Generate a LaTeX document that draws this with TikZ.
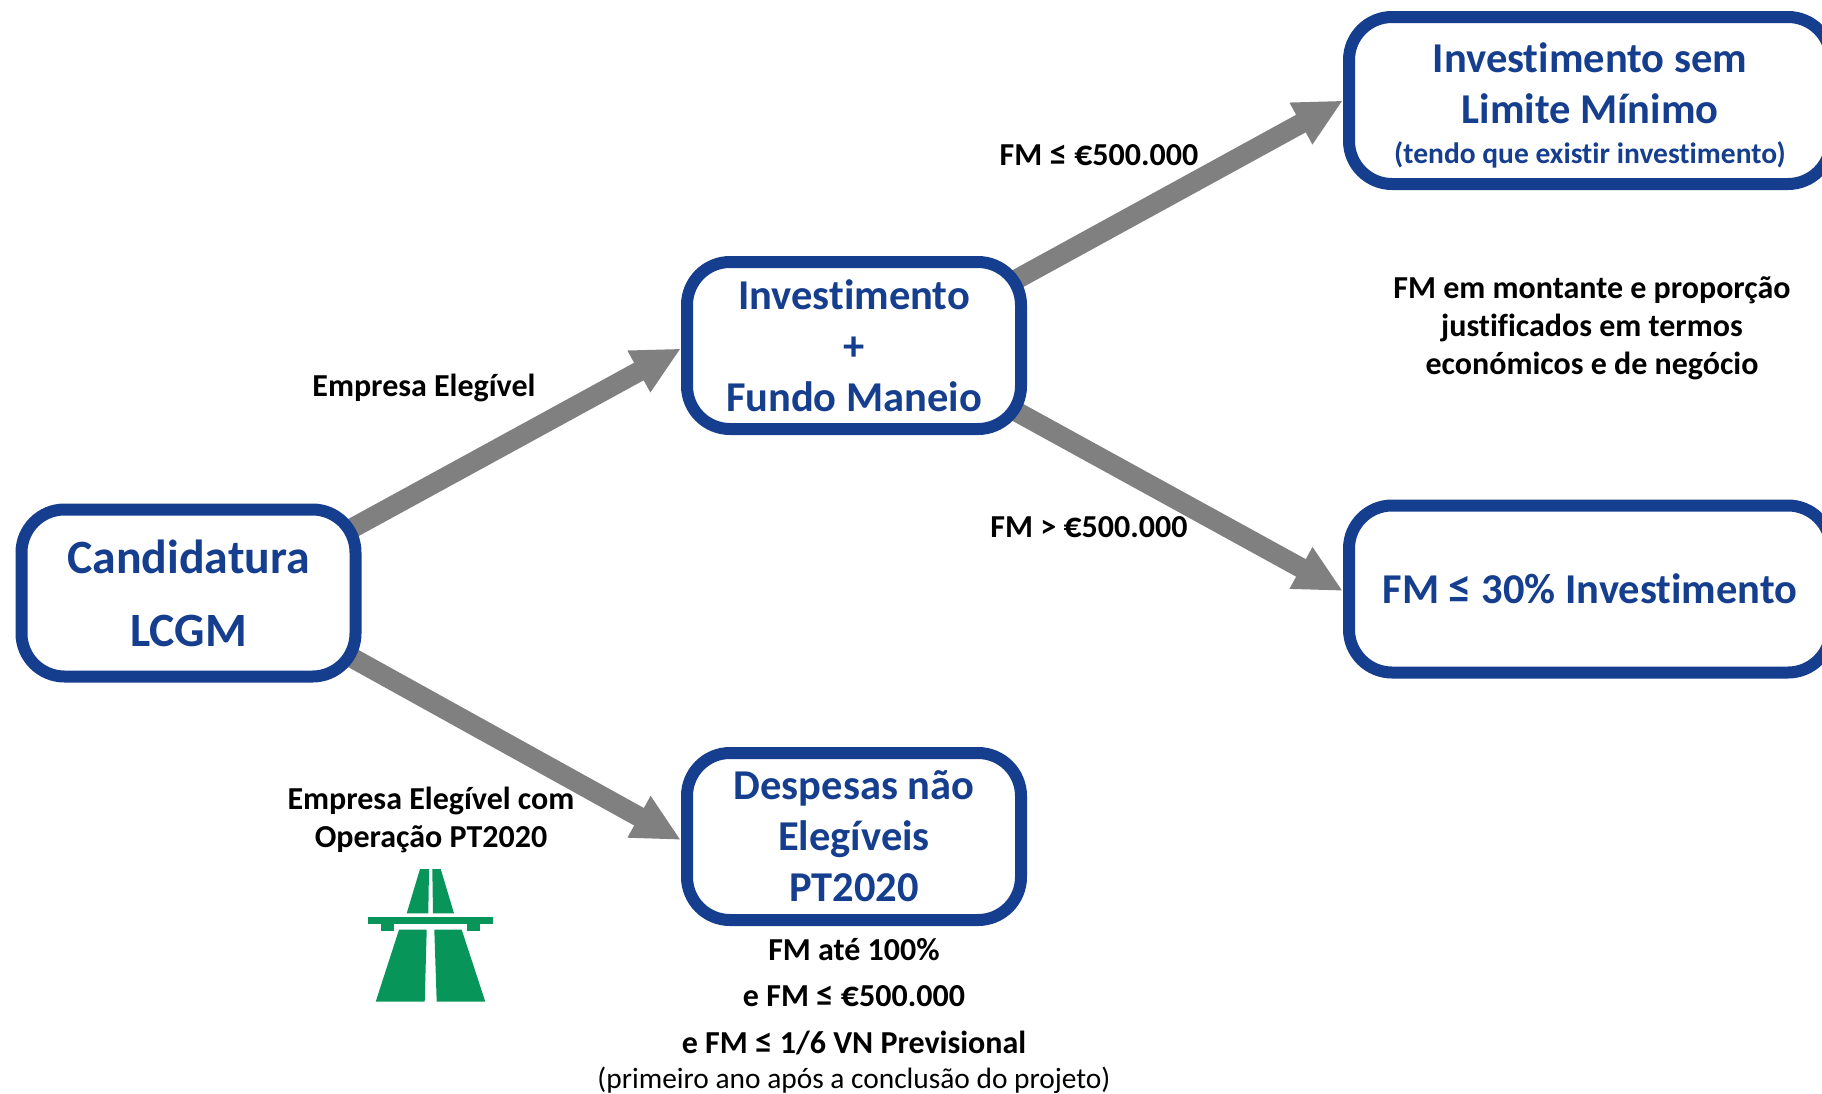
\documentclass[tikz,border=0pt]{standalone}
\usepackage{graphicx}
\usepackage{fontspec}
\setmainfont[Ligatures=NoCommon]{Carlito}
\usetikzlibrary{arrows.meta,backgrounds}
\definecolor{boxblue}{HTML}{153E8E}
\definecolor{arrowgray}{HTML}{808080}
\definecolor{roadgreen}{HTML}{079559}
\newcommand{\eur}{\scalebox{1.12}{€}}
\newcommand{\leqsign}{\scalebox{1.1}{≤}}
\tikzset{
  stagebox/.style={draw=boxblue,line width=12pt,rounded corners=43pt,fill=white,
    minimum width=334pt,minimum height=167pt,inner sep=0pt,align=center,
    text=boxblue,font=\bfseries\fontsize{42.5}{51}\selectfont},
  flow/.style={draw=arrowgray,line width=20pt,
    -{Triangle[length=48pt,width=44pt]}},
  note/.style={align=center,inner sep=0pt,font=\bfseries\fontsize{32}{38}\selectfont},
  road/.style={fill=roadgreen,draw=none}
}
\begin{document}
\begin{tikzpicture}[x=1pt,y=-1pt]
  \useasboundingbox (0,0) rectangle (1822,1093);
  \clip (0,0) rectangle (1822,1093);
  \node[stagebox,font=\bfseries\fontsize{47.8}{73}\selectfont] (cand) at (188.5,593) {Candidatura\\LCGM};
  \node[stagebox] (inv) at (854,345.5) {Investimento\\+\\Fundo Maneio};
  \node[stagebox] (desp) at (854,836.5) {\rule{0pt}{29pt}Despesas não\\Elegíveis\\PT2020};
  \node[stagebox,minimum width=482pt] (semlim) at (1590,100.5)
    {\rule{0pt}{40pt}Investimento sem\\Limite Mínimo\\[-11.5pt]{\fontsize{29.5}{35}\selectfont (tendo que existir investimento)}};
  \node[stagebox,minimum width=482pt] (trinta) at (1590,589) {FM \leqsign{} 30\% Investimento};
  \begin{pgfonlayer}{background}
    \draw[flow] ([xshift=-19pt,yshift=-30pt]cand.north east) -- ([yshift=-3pt]inv.west);
    \draw[flow] ([xshift=-19pt,yshift=30pt]cand.south east) -- ([yshift=-3.5pt]desp.west);
    \draw[flow] ([xshift=-19pt,yshift=-28pt]inv.north east) -- (semlim.west);
    \draw[flow] ([xshift=-19pt,yshift=28pt]inv.south east) -- ([yshift=-2pt]trinta.west);
  \end{pgfonlayer}
  \node[note] (l1) at (1099,155) {FM \leqsign{} \eur{}500.000};
  \node[note] (l2) at (424,388) {Empresa Elegível};
  \node[note] (l3) at (1089,527) {FM > \eur{}500.000};
  \node[note] (l4) at (1592,328) {FM em montante e proporção\\justificados em termos\\económicos e de negócio};
  \node[note] (l5) at (431,820) {Empresa Elegível com\\Operação PT2020};
  \node[note,anchor=base] (c1) at (854,960) {FM até 100\%};
  \node[note,anchor=base] (c2) at (854,1006) {e FM \leqsign{} \eur{}500.000};
  \node[note,anchor=base] (c3) at (854,1053) {e FM \leqsign{} 1/6 VN Previsional};
  \node[note,anchor=base,font=\fontsize{29.4}{35}\selectfont] (c4) at (854,1088.5) {(primeiro ano após a conclusão do projeto)};
  % road sign
  \fill[road] (420,869) -- (429,869) -- (428.3,913.3) -- (406.7,913.3) -- cycle;
  \fill[road] (432.3,869) -- (440.7,869) -- (454,913.3) -- (433,913.3) -- cycle;
  \fill[road] (367.7,917) rectangle (493.3,923.7);
  \fill[road] (381,923.7) rectangle (394,931);
  \fill[road] (466.7,923.7) rectangle (480,931);
  \fill[road] (399,929.7) -- (426.7,929.7) -- (424.7,1001.7) -- (375.7,1001.7) -- cycle;
  \fill[road] (434.3,929.7) -- (461.7,929.7) -- (485.3,1001.7) -- (436.7,1001.7) -- cycle;
\end{tikzpicture}
\end{document}
